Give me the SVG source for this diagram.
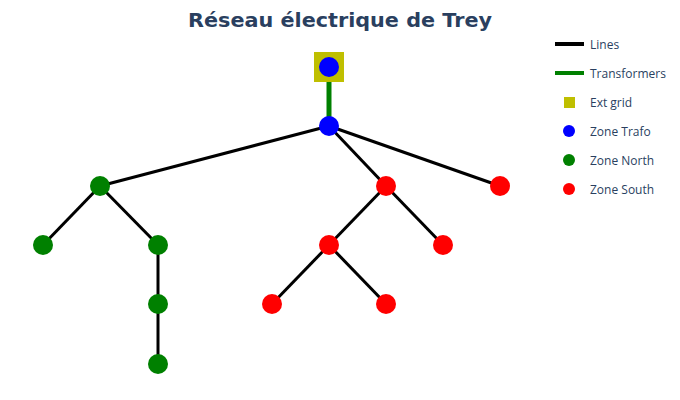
<svg xmlns="http://www.w3.org/2000/svg" width="680" height="400" viewBox="0 0 680 400">
<style>
.t{font-family:"Open Sans","DejaVu Sans",sans-serif;font-size:12px;fill:#2a3f5f}
.title{font-family:"DejaVu Sans","Open Sans",sans-serif;font-size:19px;font-weight:bold;fill:#2a3f5f}
.ln{stroke:#000;stroke-width:3;fill:none}
.tr{stroke:#008000;stroke-width:5;fill:none}
.b{fill:#0000ff}.n{fill:#008000}.s{fill:#ff0000}
</style>
<rect width="680" height="400" fill="#fff"/>
<text class="title" x="340" y="27" text-anchor="middle" textLength="304" lengthAdjust="spacingAndGlyphs">Réseau électrique de Trey</text>
<g id="connectors">
<line class="tr" x1="329" y1="67" x2="329" y2="126"/>
<line class="ln" x1="329" y1="126" x2="100" y2="186"/>
<line class="ln" x1="329" y1="126" x2="386" y2="186"/>
<line class="ln" x1="329" y1="126" x2="500" y2="186"/>
<line class="ln" x1="386" y1="186" x2="329" y2="245"/>
<line class="ln" x1="386" y1="186" x2="443" y2="245"/>
<line class="ln" x1="329" y1="245" x2="272" y2="304"/>
<line class="ln" x1="329" y1="245" x2="386" y2="304"/>
<line class="ln" x1="100" y1="186" x2="43" y2="245"/>
<line class="ln" x1="100" y1="186" x2="158" y2="245"/>
<line class="ln" x1="158" y1="245" x2="158" y2="364"/>
</g>
<g id="ext_grid"><rect x="314" y="52" width="30" height="30" fill="#bfbf00"/></g>
<g id="bus0"><circle class="b" cx="329" cy="67" r="10"/></g>
<g id="bus1"><circle class="b" cx="329" cy="126" r="10"/></g>
<g id="north1"><circle class="n" cx="100" cy="186" r="10"/></g>
<g id="north2"><circle class="n" cx="43" cy="245" r="10"/></g>
<g id="north3"><circle class="n" cx="158" cy="245" r="10"/></g>
<g id="north4"><circle class="n" cx="158" cy="304" r="10"/></g>
<g id="north5"><circle class="n" cx="158" cy="364" r="10"/></g>
<g id="south1"><circle class="s" cx="386" cy="186" r="10"/></g>
<g id="south2"><circle class="s" cx="500" cy="186" r="10"/></g>
<g id="south3"><circle class="s" cx="329" cy="245" r="10"/></g>
<g id="south4"><circle class="s" cx="443" cy="245" r="10"/></g>
<g id="south5"><circle class="s" cx="272" cy="304" r="10"/></g>
<g id="south6"><circle class="s" cx="386" cy="304" r="10"/></g>
<g id="legend">
<line x1="555" y1="44" x2="584" y2="44" stroke="#000" stroke-width="4"/>
<text class="t" x="590" y="49">Lines</text>
<line x1="555" y1="73" x2="584" y2="73" stroke="#008000" stroke-width="4"/>
<text class="t" x="590" y="78">Transformers</text>
<rect x="564" y="97" width="11" height="11" fill="#bfbf00"/>
<text class="t" x="590" y="107">Ext grid</text>
<circle class="b" cx="569" cy="131" r="6"/>
<text class="t" x="590" y="136">Zone Trafo</text>
<circle class="n" cx="569" cy="160" r="6"/>
<text class="t" x="590" y="165">Zone North</text>
<circle class="s" cx="569" cy="189" r="6"/>
<text class="t" x="590" y="194">Zone South</text>
</g>
</svg>
